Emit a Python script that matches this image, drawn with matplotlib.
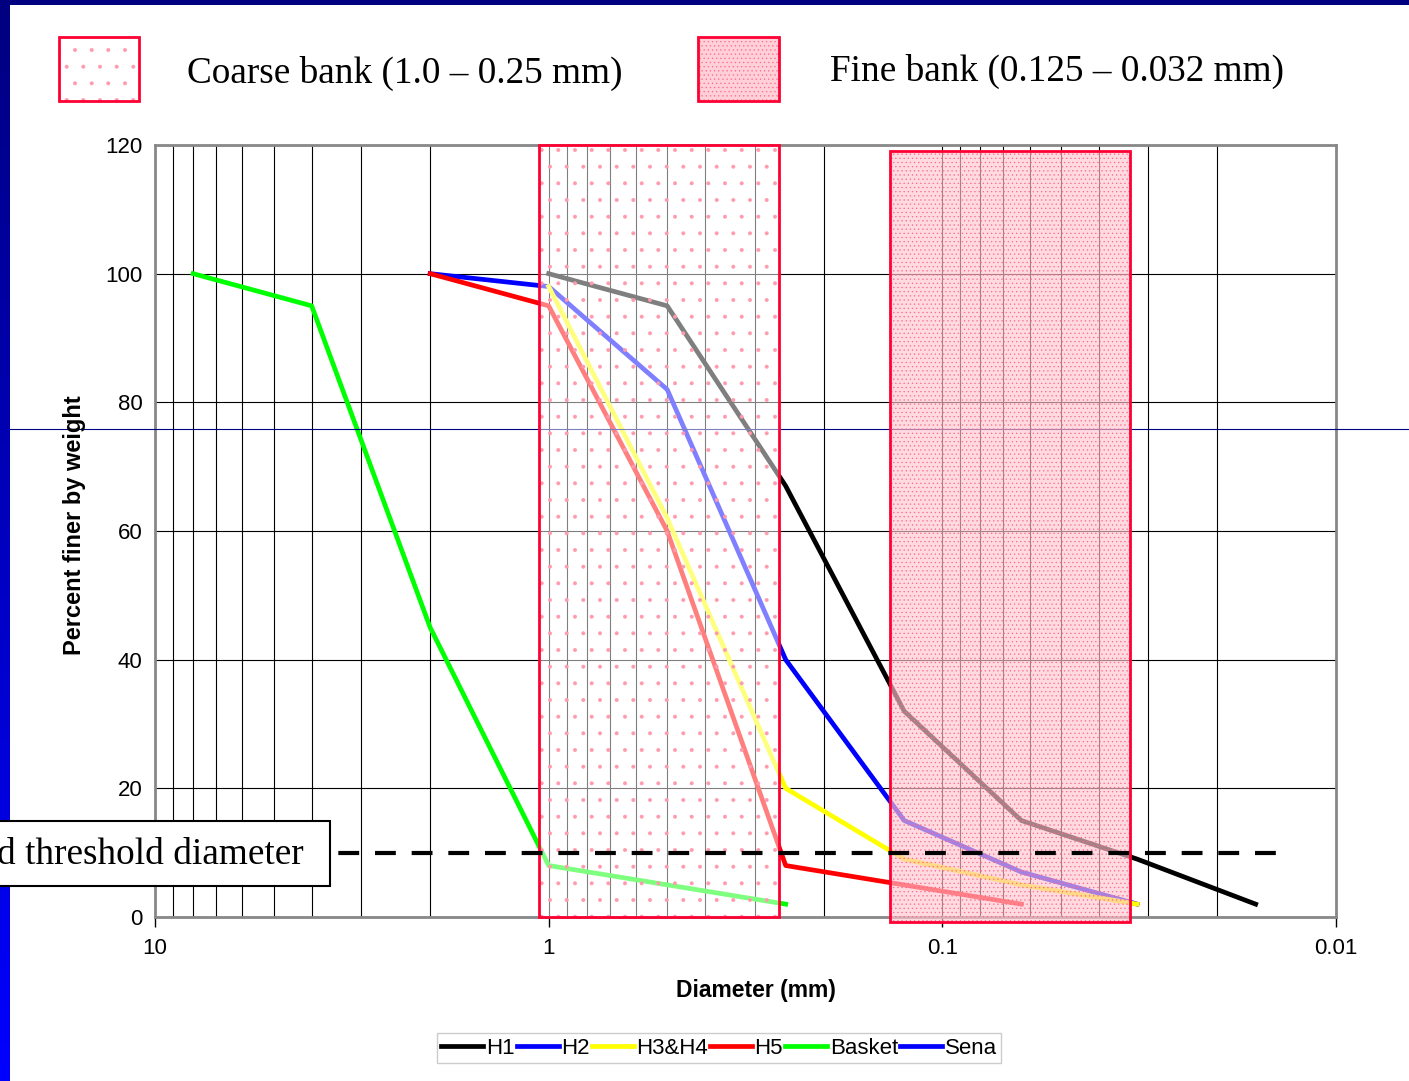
import numpy as np
import matplotlib.pyplot as plt
from matplotlib.patches import Rectangle
from matplotlib.ticker import LogLocator, NullFormatter

# grain size curves (diameter in mm, percent finer by weight)
h1_d = [1, 0.5, 0.25, 0.125, 0.063, 0.032, 0.016]
h1_p = [100, 95, 67, 32, 15, 9, 2]
h2_d = [2, 1, 0.5, 0.25, 0.125, 0.063, 0.032]
h2_p = [100, 98, 82, 40, 15, 7, 2]
h34_d = [1, 0.5, 0.25, 0.125, 0.063, 0.032]
h34_p = [98, 62, 20, 9, 5, 2]
h5_d = [2, 1, 0.5, 0.25, 0.063]
h5_p = [100, 95, 60, 8, 2]
basket_d = [8, 4, 2, 1, 0.25]
basket_p = [100, 95, 45, 8, 2]
sena_d = []
sena_p = []

# threshold line and bank ranges
thr_d = [10, 0.014]
thr_p = [10, 10]
coarse_d = (1.06, 0.26)
fine_d = (0.1355, 0.0333)

W, H = 1409, 1081
serif = 'Liberation Serif'
sans = 'Liberation Sans'
plt.rcParams['hatch.linewidth'] = 0.4

def fx(x):
    return x / W

def fy(y):
    return 1 - y / H

fig = plt.figure(figsize=(W / 100, H / 100), dpi=100)

# slide decoration
bar = fig.add_axes([0, 0, 10 / W, 1])
grad = np.linspace(0, 1, 256).reshape(-1, 1)
bar.imshow(grad, aspect='auto', cmap=plt.matplotlib.colors.LinearSegmentedColormap.from_list(
    'slide', ['#0000ff', '#000080']), origin='lower')
bar.axis('off')
fig.add_artist(Rectangle((0, fy(5)), 1, 5 / H, transform=fig.transFigure,
                         facecolor='#000080', edgecolor='none'))

ax = fig.add_axes([fx(155), fy(917), fx(1336 - 155), (917 - 145) / H])
ax.set_xscale('log')

lw = 3.4
ax.plot(h1_d, h1_p, color='black', lw=lw, label='H1', zorder=3)
ax.plot(h2_d, h2_p, color='#0000ff', lw=lw, label='H2', zorder=3)
ax.plot(h34_d, h34_p, color='#ffff00', lw=lw, label='H3&H4', zorder=3)
ax.plot(h5_d, h5_p, color='#ff0000', lw=lw, label='H5', zorder=3)
ax.plot(basket_d, basket_p, color='#00ff00', lw=lw, label='Basket', zorder=3)
ax.plot(sena_d, sena_p, color='#0000ff', lw=lw, label='Sena', zorder=3)

# thin slide line across the figure
ax.plot([fx(10), 1], [fy(429), fy(429)], transform=fig.transFigure, clip_on=False,
        color='#000080', lw=0.8, zorder=3.5)

# bank areas
ax.add_patch(Rectangle((coarse_d[0], 0), coarse_d[1] - coarse_d[0], 120,
                       facecolor=(1, 1, 1, 0.5), edgecolor='none', zorder=4, clip_on=False))
ax.add_patch(Rectangle((coarse_d[0], 0), coarse_d[1] - coarse_d[0], 120, fill=False,
                       hatch='.', edgecolor='#ff9aae', lw=0, zorder=4, clip_on=False))
ax.add_patch(Rectangle((coarse_d[0], 0), coarse_d[1] - coarse_d[0], 120, fill=False,
                       edgecolor='#ff0033', lw=2, zorder=4.5, clip_on=False))

ax.add_patch(Rectangle((fine_d[0], -0.8), fine_d[1] - fine_d[0], 119.9,
                       facecolor=(1, 0.78, 0.82, 0.65), edgecolor='none', zorder=4, clip_on=False))
ax.add_patch(Rectangle((fine_d[0], -0.8), fine_d[1] - fine_d[0], 119.9, fill=False,
                       hatch='....', edgecolor='#ff6688', lw=0, zorder=4, clip_on=False))
ax.add_patch(Rectangle((fine_d[0], -0.8), fine_d[1] - fine_d[0], 119.9, fill=False,
                       edgecolor='#ff0033', lw=2, zorder=4.5, clip_on=False))

ax.plot(thr_d, thr_p, color='black', lw=3, dashes=(5, 3.8), zorder=5)

ax.set_xlim(10, 0.01)
ax.set_ylim(0, 120)
ax.set_xticks([10, 1, 0.1, 0.01])
ax.set_xticklabels(['10', '1', '0.1', '0.01'])
ax.xaxis.set_minor_locator(LogLocator(base=10, subs=np.arange(2, 10)))
ax.xaxis.set_minor_formatter(NullFormatter())
ax.set_yticks(range(0, 121, 20))
ax.tick_params(axis='x', which='minor', length=0)
ax.tick_params(axis='x', which='major', length=7, width=1, pad=8, labelsize=16)
ax.tick_params(axis='y', length=0, pad=9, labelsize=16)
for lab in ax.get_xticklabels() + ax.get_yticklabels():
    lab.set_family(sans)
ax.grid(True, which='both', axis='x', color='black', lw=0.8, zorder=1)
ax.grid(True, which='major', axis='y', color='black', lw=0.8, zorder=1)
ax.set_axisbelow(True)
for s in ax.spines.values():
    s.set_color('#888888')
    s.set_linewidth(2)

fig.text(fx(75), fy(525), 'Percent finer by weight', rotation=90, ha='center', va='center',
         family=sans, weight='bold', size=17)
fig.text(fx(756), fy(991), 'Diameter (mm)', ha='center', va='center',
         family=sans, weight='bold', size=16.5)

leg = fig.legend(loc='center', bbox_to_anchor=(fx(719), fy(1048)), ncol=6,
                 prop={'family': sans, 'size': 16}, handlelength=1.9, handletextpad=0.1,
                 columnspacing=0.1, borderpad=0.2, fancybox=False, edgecolor='#cccccc',
                 framealpha=1)

# top key for the bank areas
def key_box(x0, x1, y0, y1, face, hatch, hcol):
    fig.add_artist(Rectangle((fx(x0), fy(y1)), fx(x1 - x0), (y1 - y0) / H,
                             transform=fig.transFigure, facecolor=face, edgecolor='none'))
    fig.add_artist(Rectangle((fx(x0), fy(y1)), fx(x1 - x0), (y1 - y0) / H,
                             transform=fig.transFigure, fill=False, hatch=hatch,
                             edgecolor=hcol, lw=0))
    fig.add_artist(Rectangle((fx(x0), fy(y1)), fx(x1 - x0), (y1 - y0) / H,
                             transform=fig.transFigure, fill=False, edgecolor='#ff0033', lw=2))

key_box(59, 139, 37, 101, 'white', '.', '#ff9aae')
key_box(698, 779, 37, 101, '#ffd0d8', '....', '#ff6688')
fig.text(fx(187), fy(73), 'Coarse bank (1.0 \u2013 0.25 mm)', ha='left', va='center',
         family=serif, size=26.8)
fig.text(fx(830), fy(71), 'Fine bank (0.125 \u2013 0.032 mm)', ha='left', va='center',
         family=serif, size=26.8)

# threshold label box, running off the left edge
fig.add_artist(Rectangle((-0.01, fy(886)), fx(330) + 0.01, 65 / H, transform=fig.transFigure,
                         facecolor='white', edgecolor='black', lw=1.5))
fig.text(fx(304), fy(855), 'd threshold diameter', ha='right', va='center',
         family=serif, size=26.8)

fig.savefig('out.png', dpi=100)
